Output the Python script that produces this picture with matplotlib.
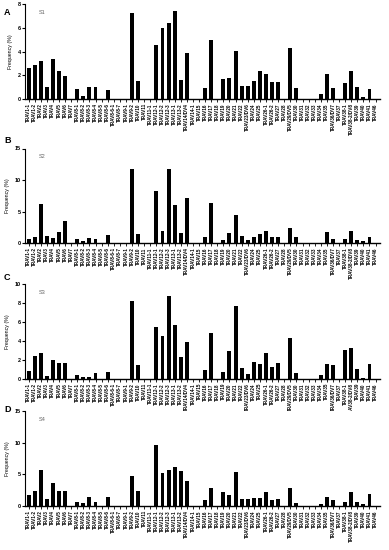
import numpy as np
import matplotlib
matplotlib.use("Agg")
import matplotlib.pyplot as plt

plt.rcParams['font.family'] = ['Liberation Sans', 'DejaVu Sans']

genes = ["TRAV1-1", "TRAV1-2", "TRAV2", "TRAV3", "TRAV4", "TRAV5", "TRAV6", "TRAV7",
         "TRAV8-1", "TRAV8-2", "TRAV8-3", "TRAV8-4", "TRAV8-5", "TRAV8-6", "TRAV8-6-1",
         "TRAV8-7", "TRAV9-1", "TRAV9-2", "TRAV10", "TRAV11", "TRAV11-1", "TRAV12-1",
         "TRAV12-2", "TRAV12-3", "TRAV13-1", "TRAV13-2", "TRAV14/DV4", "TRAV14-1",
         "TRAV15", "TRAV16", "TRAV17", "TRAV18", "TRAV19", "TRAV20", "TRAV21", "TRAV22",
         "TRAV23/DV6", "TRAV24", "TRAV25", "TRAV26-1", "TRAV26-2", "TRAV27", "TRAV28",
         "TRAV29/DV5", "TRAV30", "TRAV31", "TRAV32", "TRAV33", "TRAV34", "TRAV35",
         "TRAV36/DV7", "TRAV37", "TRAV38-1", "TRAV38-2/DV8", "TRAV39", "TRAV40",
         "TRAV41", "TRAV46"]

s1 = [2.6, 2.9, 3.25, 1.05, 3.4, 2.4, 1.95, 0, 0.88, 0.25, 1.05, 0.98, 0, 0.75, 0,
      0, 0, 7.3, 1.55, 0, 0, 4.6, 6.0, 6.45, 7.4, 1.6, 3.85, 0,
      0, 0.93, 4.96, 0, 1.72, 1.8, 4.1, 1.1, 1.1, 1.52, 2.4, 2.14, 1.4, 1.4, 0,
      4.28, 0.96, 0, 0, 0, 0.42, 2.1, 0.93, 0, 1.32, 2.37, 1.0, 0.17, 0.82, 0]

s2 = [0.58, 0.9, 6.2, 1.06, 0.8, 1.7, 3.45, 0, 0.64, 0.3, 0.74, 0.7, 0, 1.33, 0,
      0, 0, 11.8, 1.44, 0, 0, 8.24, 1.86, 11.7, 6.1, 1.6, 7.2, 0,
      0, 0.96, 6.4, 0, 0.53, 1.54, 4.5, 1.06, 0.53, 0.9, 1.5, 1.97, 0.96, 0.9, 0,
      2.4, 0.96, 0, 0, 0, 0, 1.75, 0.64, 0, 0.7, 1.97, 0.43, 0.37, 0.9, 0]

s3 = [0.8, 2.43, 2.78, 0.28, 2.04, 1.65, 1.65, 0, 0.42, 0.25, 0.25, 0.67, 0, 0.77, 0,
      0, 0, 8.24, 1.5, 0, 0, 5.53, 4.5, 8.73, 5.7, 2.32, 3.87, 0,
      0, 0.95, 4.86, 0, 0.77, 2.92, 7.68, 1.2, 0.56, 1.83, 1.62, 2.75, 1.27, 1.73, 0,
      4.3, 0.63, 0, 0, 0, 0.46, 1.62, 1.51, 0, 3.06, 3.24, 1.09, 0.14, 1.62, 0]

s4 = [1.73, 2.3, 5.7, 1.1, 3.72, 2.36, 2.36, 0, 0.63, 0.47, 1.41, 0.58, 0, 1.36, 0,
      0, 0, 4.71, 2.36, 0, 0, 9.63, 5.24, 5.7, 6.18, 5.55, 3.93, 0,
      0, 0.94, 2.83, 0, 2.25, 1.73, 5.34, 1.1, 1.1, 1.31, 1.26, 2.15, 0.89, 1.15, 0,
      2.83, 0.52, 0, 0, 0, 0.31, 1.41, 1.0, 0, 0.58, 2.2, 0.68, 0.26, 1.88, 0]

# letter, sample, values, y ticks, axes bottom, letter y
panels = [("A", "S1", s1, [0, 2, 4, 6, 8], 0.82, 0.978),
          ("B", "S2", s2, [0, 5, 10, 15], 0.558, 0.744),
          ("C", "S3", s3, [0, 2, 4, 6, 8, 10], 0.311, 0.495),
          ("D", "S4", s4, [0, 5, 10, 15], 0.08, 0.256)]

fig = plt.figure(figsize=(3.89, 5.5), dpi=100)
x = np.arange(len(genes))

for letter, sample, vals, yt, bottom, ly in panels:
    ax = fig.add_axes([0.064, bottom, 0.914, 0.172])
    ax.bar(x, vals, width=0.65, color='black')
    ax.set_xlim(-0.6, len(genes) - 0.2)
    ax.set_ylim(0, yt[-1])
    ax.set_yticks(yt)
    ax.set_yticklabels([str(v) for v in yt], fontsize=4, fontweight='bold')
    ax.set_xticks(x)
    ax.set_xticklabels(genes, rotation=90, fontsize=3.3, fontweight='bold')
    ax.spines['top'].set_visible(False)
    ax.spines['right'].set_visible(False)
    ax.spines['left'].set_linewidth(0.8)
    ax.spines['bottom'].set_linewidth(1.0)
    ax.tick_params(axis='x', length=2, width=0.6, pad=1)
    ax.tick_params(axis='y', length=2, width=0.8, pad=1)
    ax.set_ylabel("Frequency (%)", fontsize=3.8, labelpad=3)
    ax.text(0.04, 0.9, sample, transform=ax.transAxes, fontsize=4, color='#666666')
    fig.text(0.01, ly, letter, fontsize=6.5, fontweight='bold', va='center')

plt.savefig("out.png", dpi=100)
